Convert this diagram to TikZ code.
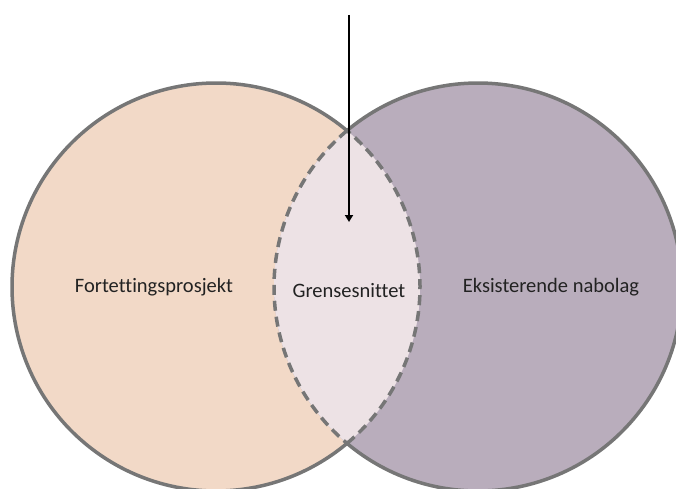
\documentclass[tikz,border=0pt]{standalone}
\usepackage{fontspec}
\setmainfont{Carlito}[Ligatures={NoCommon}]
\usetikzlibrary{arrows.meta}
\definecolor{peach}{RGB}{242,217,199}
\definecolor{mauve}{RGB}{185,173,188}
\definecolor{lensfill}{RGB}{237,226,229}
\definecolor{rim}{RGB}{118,118,118}
\definecolor{ink}{RGB}{34,34,34}
\tikzset{
  rimline/.style={draw=rim, line width=3.5pt},
  lensline/.style={draw=rim, line width=3.5pt, dash pattern=on 10pt off 6pt},
  setname/.style={font=\fontsize{20.5}{24}\selectfont, text=ink, inner sep=0pt},
  pointer/.style={draw=black, line width=1.8pt, -{Triangle[length=7pt,width=8pt]}}
}
\begin{document}
\begin{tikzpicture}[x=1pt,y=1pt]
  \useasboundingbox (0,0) rectangle (676,488);
  % circle centres
  \coordinate (L) at (216,201);
  \coordinate (R) at (478,201);
  % fills
  \fill[peach] (L) circle (204pt);
  \fill[mauve] (R) circle (204pt);
  \begin{scope}
    \clip (L) circle (204pt);
    \fill[lensfill] (R) circle (204pt);
  \end{scope}
  % outer outlines (solid)
  \draw[rimline] (L) ++(50.05:204pt) arc[start angle=50.05, end angle=309.95, radius=204pt];
  \draw[rimline] (R) ++(229.95:204pt) arc[start angle=229.95, end angle=489.95, radius=204pt];
  % lens outline (dashed)
  \draw[lensline] (L) ++(-50.05:204pt) arc[start angle=-50.05, end angle=50.05, radius=204pt];
  \draw[lensline] (R) ++(129.95:204pt) arc[start angle=129.95, end angle=230.05, radius=204pt];
  % set names
  \node[setname] (proj) at (154,201) {Fortettingsprosjekt};
  \node[setname] (grense) at (349,197) {Grensesnittet};
  \node[setname] (nabo) at (551,201) {Eksisterende nabolag};
  % pointer into the overlap
  \coordinate (ptop) at (349,473);
  \coordinate (ptip) at (349,266);
  \draw[pointer] (ptop) -- (ptip);
\end{tikzpicture}
\end{document}
